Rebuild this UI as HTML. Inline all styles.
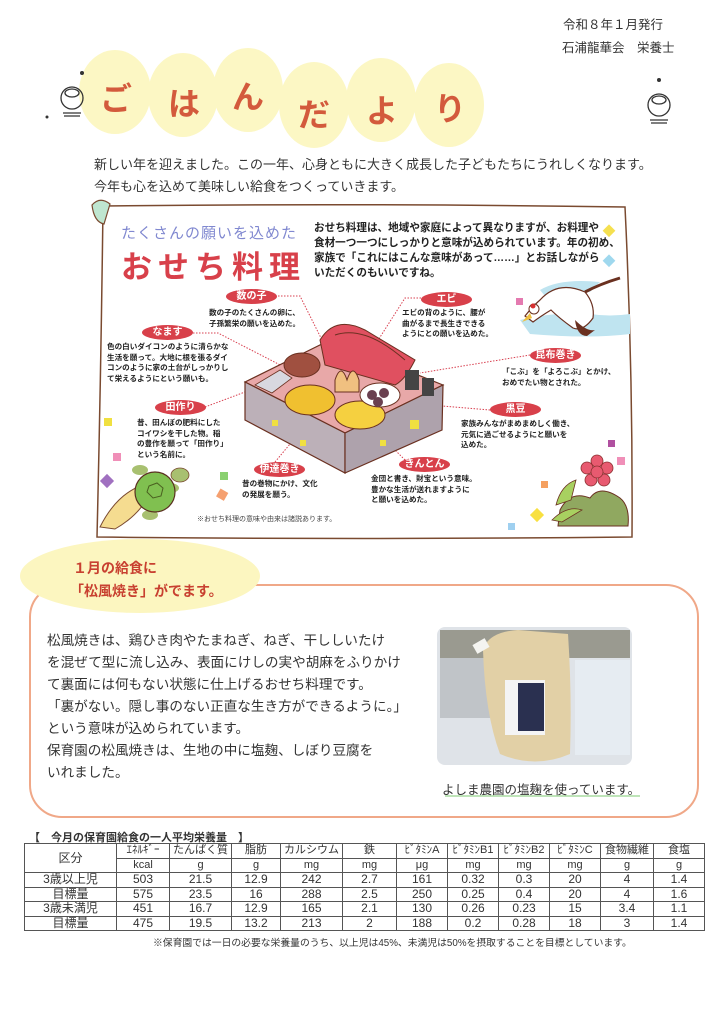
<!DOCTYPE html>
<html><head><meta charset="utf-8">
<style>
*{margin:0;padding:0;box-sizing:border-box}
body{width:724px;height:1024px;background:#fff;position:relative;overflow:hidden;font-family:"Liberation Sans","Noto Sans CJK JP",sans-serif;color:#333}
.a{position:absolute;white-space:nowrap}
.lab{position:absolute;background:#d8404a;color:#fff;border-radius:50%;text-align:center;font-weight:bold;font-size:10px;line-height:15px;height:15px;width:51px}
.t8{position:absolute;font-size:7.6px;line-height:10.7px;white-space:nowrap;color:#222;font-weight:bold}
.body p{position:absolute;left:47px;font-size:13.6px;white-space:nowrap;color:#333}
table{position:absolute;left:24px;top:843px;border-collapse:collapse;font-size:12px;color:#333}
td{border:1px solid #555;text-align:center;padding:0;line-height:13px;height:14.5px}
td.h{font-size:11px}
tr.r td{border-bottom:1px dotted #888}
</style></head><body>
<svg width="724" height="1024" style="position:absolute;left:0;top:0">
<g fill="#fcf7c4">
<ellipse cx="115" cy="92" rx="36" ry="42"/><ellipse cx="183" cy="95" rx="35" ry="42"/>
<ellipse cx="248" cy="90" rx="35" ry="42"/><ellipse cx="314" cy="105" rx="35" ry="43"/>
<ellipse cx="381" cy="100" rx="35" ry="42"/><ellipse cx="449" cy="105" rx="35" ry="42"/>
</g>
<g fill="none" stroke="#333" stroke-width="1.3">
<circle cx="72" cy="98" r="11"/><ellipse cx="72" cy="93" rx="7" ry="4"/><path d="M63 113h18M64 116h16"/>
<circle cx="659" cy="105" r="11"/><ellipse cx="659" cy="100" rx="7" ry="4"/><path d="M650 120h18M651 123h16"/>
</g>
<circle cx="82" cy="73" r="2" fill="#333"/><circle cx="47" cy="117" r="1.5" fill="#333"/><circle cx="659" cy="80" r="2" fill="#333"/>
<path d="M103 206 Q360 203 625 207 Q633 370 632 537 Q360 540 97 537 Q101 370 103 206Z" fill="#fff" stroke="#7a4a30" stroke-width="1.5"/>
<path d="M92 205 q8 -9 18 -1 l-6 20 q-10 -2 -12 -19z" fill="#bfe6d0" stroke="#7a4a30" stroke-width="1.2"/>
<g>
<rect x="605" y="226" width="9" height="9" fill="#f5e050" transform="rotate(45 609 230)"/>
<rect x="605" y="256" width="9" height="9" fill="#9fd8ee" transform="rotate(45 609 260)"/>
<rect x="516" y="298" width="7" height="7" fill="#e47ab0"/>
<rect x="104" y="418" width="8" height="8" fill="#f0e040"/>
<rect x="113" y="453" width="8" height="8" fill="#f08fb8"/>
<rect x="102" y="476" width="10" height="10" fill="#a070c0" transform="rotate(45 107 481)"/>
<rect x="220" y="472" width="8" height="8" fill="#8ad070"/>
<rect x="218" y="490" width="9" height="9" fill="#f5a070" transform="rotate(30 222 494)"/>
<rect x="608" y="440" width="7" height="7" fill="#b050a0"/>
<rect x="617" y="457" width="8" height="8" fill="#f08fb8"/>
<rect x="541" y="481" width="7" height="7" fill="#f5a060"/>
<rect x="532" y="510" width="10" height="10" fill="#f8e040" transform="rotate(45 537 515)"/>
<rect x="508" y="523" width="7" height="7" fill="#9fd0f0"/>
</g>
<path d="M520 320 q30 -8 70 -6 q20 3 40 0 v20 q-40 5 -100 0z" fill="#bfe4f0"/>
<path d="M540 290 q20 -12 60 -8 l-10 10 q-10 -2 -40 10z" fill="#bfe4f0"/>
<path d="M540 300 q18 -20 45 -8 q10 12 8 26 q-10 14 -20 10 q-14 -10 -22 -18 q-10 6 -18 12 l-8 -6 q8 -10 15 -16z" fill="#fff" stroke="#6a3020" stroke-width="1.2"/>
<path d="M575 320 q12 12 20 10 l-8 6 q-10 0 -12 -16z" fill="#6a3020"/>
<path d="M585 292 q15 -8 35 -14" stroke="#6a3020" stroke-width="3" fill="none"/>
<circle cx="534" cy="309" r="5" fill="#fff" stroke="#6a3020"/><circle cx="533" cy="306" r="2.5" fill="#d83030"/>
<path d="M530 313 l-8 9 l10 -4z" fill="#f0c040"/>
<path d="M100 527 q20 -40 55 -45 q-10 30 -40 47z" fill="#f5dc90" stroke="#7a4a30" stroke-width="1"/>
<ellipse cx="170" cy="488" rx="9" ry="5" fill="#a8c070"/><ellipse cx="140" cy="470" rx="8" ry="5" fill="#a8c070"/>
<ellipse cx="150" cy="515" rx="8" ry="5" fill="#a8c070"/><ellipse cx="180" cy="475" rx="9" ry="7" fill="#a8c070" stroke="#7a4a30" stroke-width=".8"/>
<circle cx="155" cy="492" r="20" fill="#80c050" stroke="#5a3020" stroke-width="1.2"/>
<path d="M149 486l8 -3 6 5 -2 8 -8 2 -6 -6z" fill="none" stroke="#4a6020"/>
<g fill="#e85a70" stroke="#8a3030" stroke-width=".8">
<circle cx="597" cy="461" r="6"/><circle cx="607" cy="468" r="6"/><circle cx="604" cy="480" r="6"/><circle cx="591" cy="480" r="6"/><circle cx="587" cy="468" r="6"/><circle cx="597" cy="472" r="6"/>
</g>
<path d="M560 510 q10 -20 30 -12 q10 -14 30 0 q10 8 8 28 h-70z" fill="#90a860" stroke="#6a3020"/>
<path d="M556 505 q5 -20 20 -25 l-5 20z M552 520 q15 -15 30 -10 l-20 12z" fill="#a8d060" stroke="#6a3020" stroke-width=".8"/>
<g stroke="#d84050" stroke-width="1" stroke-dasharray="1.5 1.5" fill="none">
<path d="M278 296 H300 L322 340"/>
<path d="M193 333 H218 L290 370"/>
<path d="M205 407 L245 392"/>
<path d="M275 462 L310 420"/>
<path d="M405 460 L370 425"/>
<path d="M490 410 L430 405"/>
<path d="M530 355 L420 373"/>
<path d="M421 298 H405 L375 345"/>
</g>
<path d="M245 382 L330 340 L443 385 L345 433Z" fill="#e8a8a8" stroke="#6a3020" stroke-width="1.2"/>
<path d="M245 382 L345 433 L345 473 L245 420Z" fill="#bcb0b8" stroke="#6a3020" stroke-width="1.2"/>
<path d="M345 433 L443 385 L442 430 L345 473Z" fill="#aea2ac" stroke="#6a3020" stroke-width="1.2"/>
<path d="M320 340 q15 -25 45 -10 l50 30 q-10 20 -20 25 l-70 -20z" fill="#e05060" stroke="#6a3020"/>
<path d="M335 335 q30 -10 70 25" stroke="#6a3020" fill="none"/>
<ellipse cx="302" cy="365" rx="18" ry="12" fill="#a05040" stroke="#6a3020"/>
<path d="M335 380 q6 -18 12 0 q6 -18 12 0 v12 h-24z" fill="#f0c080" stroke="#6a3020"/>
<ellipse cx="310" cy="400" rx="25" ry="15" fill="#f0c030" stroke="#6a3020"/>
<ellipse cx="360" cy="415" rx="25" ry="14" fill="#f5d040" stroke="#6a3020"/>
<ellipse cx="380" cy="395" rx="20" ry="12" fill="#fff" stroke="#6a3020"/>
<circle cx="372" cy="395" r="5" fill="#6a4050"/><circle cx="384" cy="393" r="5" fill="#6a4050"/><circle cx="378" cy="402" r="5" fill="#6a4050"/>
<rect x="405" y="370" width="14" height="20" fill="#444"/><rect x="422" y="378" width="12" height="18" fill="#444"/>
<path d="M255 385 l25 -15 l12 8 l-20 15z" fill="#d8d8e0" stroke="#6a3020" stroke-width=".8"/>
<g fill="#f0e040"><rect x="272" y="420" width="6" height="6"/><rect x="300" y="440" width="6" height="6"/><rect x="410" y="420" width="9" height="9"/><rect x="380" y="440" width="6" height="6"/></g>
<rect x="30" y="585" width="668" height="232" rx="32" fill="none" stroke="#f0a888" stroke-width="2"/>
<ellipse cx="140" cy="576" rx="120" ry="37" fill="#fcf6c0"/>
<rect x="437" y="627" width="195" height="138" rx="8" fill="#dfe3e8"/>
<rect x="440" y="630" width="190" height="28" fill="#9a9a90"/>
<rect x="440" y="658" width="50" height="60" fill="#c0c4c8"/>
<rect x="575" y="660" width="55" height="95" fill="#e6ecf2"/>
<path d="M483 650 q5 -18 35 -20 l50 4 q4 60 2 120 q-35 15 -70 0 q-15 -40 -17 -104z" fill="#e2d0a6"/>
<rect x="474" y="641" width="14" height="10" fill="#f4f4f0" transform="rotate(-30 481 646)"/>
<rect x="505" y="680" width="40" height="55" fill="#f4f4f4"/>
<path d="M518 683 h26 v48 h-26z" fill="#2a3050"/>
<path d="M445 796 H640" stroke="#a8dca0" stroke-width="1.5"/>
</svg>

<div class="a" style="left:563px;top:14px;font-size:12.5px;color:#333">令和８年１月発行</div>
<div class="a" style="left:562px;top:37px;font-size:12.5px;color:#333">石浦龍華会　栄養士</div>

<div class="a" style="left:100px;top:74px;font-size:32px;font-weight:bold;color:#d35a3c">ご</div>
<div class="a" style="left:168px;top:79px;font-size:32px;font-weight:bold;color:#d35a3c">は</div>
<div class="a" style="left:232px;top:72px;font-size:32px;font-weight:bold;color:#d35a3c">ん</div>
<div class="a" style="left:298px;top:90px;font-size:32px;font-weight:bold;color:#d35a3c">だ</div>
<div class="a" style="left:366px;top:86px;font-size:32px;font-weight:bold;color:#d35a3c">よ</div>
<div class="a" style="left:434px;top:84px;font-size:32px;font-weight:bold;color:#d35a3c">り</div>

<div class="a" style="left:94px;top:154px;font-size:13px;color:#333">新しい年を迎えました。この一年、心身ともに大きく成長した子どもたちにうれしくなります。</div>
<div class="a" style="left:94px;top:176px;font-size:13px;color:#333">今年も心を込めて美味しい給食をつくっていきます。</div>

<div class="a" style="left:121px;top:222px;font-size:15px;color:#8088d0;letter-spacing:1px">たくさんの願いを込めた</div>
<div class="a" style="left:121px;top:242px;font-size:31px;font-weight:bold;color:#d8404a;letter-spacing:6px">おせち料理</div>
<div class="a" style="left:314px;top:221px;font-size:10.6px;line-height:15px;color:#222;font-weight:bold">おせち料理は、地域や家庭によって異なりますが、お料理や<br>食材一つ一つにしっかりと意味が込められています。年の初め、<br>家族で「これにはこんな意味があって……」とお話しながら<br>いただくのもいいですね。</div>

<div class="lab" style="left:226px;top:289px">数の子</div>
<div class="t8" style="left:209px;top:308px">数の子のたくさんの卵に、<br>子孫繁栄の願いを込めた。</div>
<div class="lab" style="left:142px;top:325px">なます</div>
<div class="t8" style="left:107px;top:342px">色の白いダイコンのように清らかな<br>生活を願って。大地に根を張るダイ<br>コンのように家の土台がしっかりし<br>て栄えるようにという願いも。</div>
<div class="lab" style="left:155px;top:400px">田作り</div>
<div class="t8" style="left:137px;top:418px">昔、田んぼの肥料にした<br>コイワシを干した物。稲<br>の豊作を願って「田作り」<br>という名前に。</div>
<div class="lab" style="left:254px;top:462px">伊達巻き</div>
<div class="t8" style="left:242px;top:479px">昔の巻物にかけ、文化<br>の発展を願う。</div>
<div class="lab" style="left:399px;top:457px">きんとん</div>
<div class="t8" style="left:371px;top:474px">金団と書き、財宝という意味。<br>豊かな生活が送れますように<br>と願いを込めた。</div>
<div class="lab" style="left:490px;top:402px">黒豆</div>
<div class="t8" style="left:461px;top:419px">家族みんながまめまめしく働き、<br>元気に過ごせるようにと願いを<br>込めた。</div>
<div class="lab" style="left:530px;top:348px">昆布巻き</div>
<div class="t8" style="left:502px;top:367px">「こぶ」を「よろこぶ」とかけ、<br>おめでたい物とされた。</div>
<div class="lab" style="left:421px;top:292px">エビ</div>
<div class="t8" style="left:402px;top:308px">エビの背のように、腰が<br>曲がるまで長生きできる<br>ようにとの願いを込めた。</div>
<div class="a" style="left:197px;top:514px;font-size:7px;color:#444">※おせち料理の意味や由来は諸説あります。</div>

<div class="a" style="left:73px;top:558px;font-size:14px;font-weight:bold;color:#c84030">１月の給食に</div>
<div class="a" style="left:70px;top:581px;font-size:14px;font-weight:bold;color:#c84030">「松風焼き」がでます。</div>
<div class="body">
<p style="top:629px">松風焼きは、鶏ひき肉やたまねぎ、ねぎ、干ししいたけ</p>
<p style="top:651px">を混ぜて型に流し込み、表面にけしの実や胡麻をふりかけ</p>
<p style="top:673px">て裏面には何もない状態に仕上げるおせち料理です。</p>
<p style="top:695px">「裏がない。隠し事のない正直な生き方ができるように。」</p>
<p style="top:717px">という意味が込められています。</p>
<p style="top:739px">保育園の松風焼きは、生地の中に塩麹、しぼり豆腐を</p>
<p style="top:761px">いれました。</p>
</div>
<div class="a" style="left:442px;top:779px;font-size:12.5px;color:#333">よしま農園の塩麹を使っています。</div>

<div class="a" style="left:29px;top:829px;font-size:11px;font-weight:bold;color:#333">【　今月の保育園給食の一人平均栄養量　】</div>
<table>
<colgroup><col style="width:92px"><col style="width:53px"><col style="width:62px"><col style="width:49px"><col style="width:62px"><col style="width:54px"><col style="width:51px"><col style="width:51px"><col style="width:51px"><col style="width:51px"><col style="width:53px"><col style="width:51px"></colgroup>
<tr><td rowspan="2" style="font-size:12px">区分</td><td class="h">ｴﾈﾙｷﾞｰ</td><td class="h">たんぱく質</td><td class="h">脂肪</td><td class="h">カルシウム</td><td class="h">鉄</td><td class="h">ﾋﾞﾀﾐﾝA</td><td class="h">ﾋﾞﾀﾐﾝB1</td><td class="h">ﾋﾞﾀﾐﾝB2</td><td class="h">ﾋﾞﾀﾐﾝC</td><td class="h">食物繊維</td><td class="h">食塩</td></tr>
<tr class="h"><td class="h">kcal</td><td class="h">g</td><td class="h">g</td><td class="h">mg</td><td class="h">mg</td><td class="h">μg</td><td class="h">mg</td><td class="h">mg</td><td class="h">mg</td><td class="h">g</td><td class="h">g</td></tr>
<tr class="r"><td>3歳以上児</td><td>503</td><td>21.5</td><td>12.9</td><td>242</td><td>2.7</td><td>161</td><td>0.32</td><td>0.3</td><td>20</td><td>4</td><td>1.4</td></tr>
<tr><td>目標量</td><td>575</td><td>23.5</td><td>16</td><td>288</td><td>2.5</td><td>250</td><td>0.25</td><td>0.4</td><td>20</td><td>4</td><td>1.6</td></tr>
<tr class="r"><td>3歳未満児</td><td>451</td><td>16.7</td><td>12.9</td><td>165</td><td>2.1</td><td>130</td><td>0.26</td><td>0.23</td><td>15</td><td>3.4</td><td>1.1</td></tr>
<tr><td>目標量</td><td>475</td><td>19.5</td><td>13.2</td><td>213</td><td>2</td><td>188</td><td>0.2</td><td>0.28</td><td>18</td><td>3</td><td>1.4</td></tr>
</table>
<div class="a" style="left:153px;top:935px;font-size:9.8px;color:#333">※保育園では一日の必要な栄養量のうち、以上児は45%、未満児は50%を摂取することを目標としています。</div>
</body></html>
